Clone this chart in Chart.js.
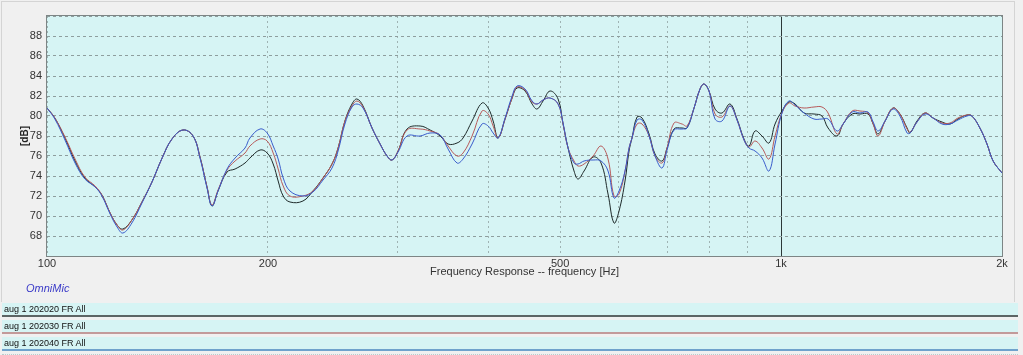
<!DOCTYPE html>
<html>
<head>
<meta charset="utf-8">
<script src="https://cdn.jsdelivr.net/npm/chart.js@4/dist/chart.umd.min.js"></script>
<style>
  body { margin: 0; background: #f0f0f0; font-family: "Liberation Sans", Arial, sans-serif; }
  #wrap { position: relative; width: 1023px; height: 355px; overflow: hidden; }
  #frame { position: absolute; left: 1px; top: 1px; width: 1012px; height: 300px; border: 1px solid #d4d4d4; border-bottom: none; }
  #chart { position: absolute; left: 0; top: 0; }
  .brand { position: absolute; left: 26px; top: 282px; color: #3b3bc8; font-style: italic; font-size: 11px; }
  .row { position: absolute; left: 2px; width: 1016px; height: 14px; background: #d6f4f4; font-size: 9px; color: #111; }
  .row span { position: absolute; left: 2px; top: 1px; }
  .row .line { position: absolute; left: 0; right: 0; bottom: 0; height: 2px; }
  .row .dots { position: absolute; left: 0; right: 0; bottom: -4px; border-top: 1px dotted #b8cccc; }
</style>
</head>
<body>
<div id="wrap">
  <div id="frame"></div>
  <canvas id="chart" width="1023" height="284"></canvas>
  <div class="brand">OmniMic</div>
  <div id="legend"></div>
</div>
<script>
const freqs = [100, 102.5, 105.8, 109.2, 112.6, 116.3, 118.8, 121.9, 124.6, 126.9, 130.5, 134.7, 139, 143.5, 148, 153.2, 158.1, 161.6, 165.2, 167.8, 171, 175.9, 180.4, 186.1, 189, 195.1, 199.5, 203.3, 206.5, 209.8, 214.3, 223.2, 230.3, 237.7, 244.5, 249.2, 254.6, 260.3, 264.4, 269.5, 277.2, 284.3, 290.6, 295.2, 300.8, 309.4, 322.3, 332.6, 343.2, 351.9, 361.9, 368.8, 379.4, 391.4, 399, 405.3, 411.7, 420.8, 430.2, 436.9, 448, 458, 465.2, 474, 484.6, 496.9, 504.7, 512.7, 522.4, 529, 539.1, 554.5, 568.6, 581.2, 592.2, 601.6, 613, 620.8, 626.6, 636.6, 646.6, 661, 673.5, 688.5, 699.4, 714.9, 733, 744.6, 761.2, 775.6, 785.4, 797.8, 813, 831, 852.2, 871.1, 890.4, 904.5, 921.7, 942.1, 963, 981.4, 1003, 1025, 1045, 1075, 1109, 1137, 1159, 1192, 1215, 1250, 1281, 1314, 1335, 1356, 1386, 1421, 1452, 1485, 1499, 1532, 1571, 1611, 1657, 1699, 1742, 1792, 1820, 1866, 1908, 1945, 2000];

const fr20 = [80.8, 79.8, 77.8, 75.5, 73.8, 72.9, 72.1, 70.3, 69.1, 68.7, 69.6, 71.4, 73.4, 75.8, 77.7, 78.6, 78.0, 75.9, 72.9, 71.0, 72.5, 74.4, 74.7, 75.3, 75.8, 76.6, 76.3, 75.2, 73.5, 72.0, 71.4, 71.5, 72.5, 73.8, 75.2, 76.8, 79.5, 81.2, 81.7, 81.0, 78.8, 77.2, 76.0, 75.6, 76.5, 78.7, 79.0, 78.6, 78.0, 77.2, 77.3, 77.8, 79.5, 81.3, 80.8, 79.5, 77.8, 79.7, 81.8, 82.8, 82.5, 81.2, 80.7, 81.5, 82.5, 81.7, 79.2, 76.8, 74.5, 73.7, 74.5, 75.9, 75.3, 72.2, 69.3, 70.5, 73.5, 76.5, 77.8, 79.9, 79.8, 78.2, 76.2, 75.5, 76.8, 78.7, 78.8, 78.8, 80.8, 82.7, 83.2, 82.5, 80.7, 80.3, 81.2, 79.7, 77.7, 77.0, 78.5, 78.0, 77.3, 79.2, 80.5, 81.4, 81.2, 80.3, 80.2, 80.0, 78.8, 78.0, 79.2, 80.2, 80.2, 80.2, 79.2, 78.2, 79.5, 80.8, 80.2, 78.8, 78.3, 79.5, 80.3, 79.8, 79.4, 79.2, 79.7, 80.1, 80.0, 78.8, 77.2, 75.5, 74.3];

const fr30 = [80.8, 79.8, 77.9, 75.7, 73.9, 73.0, 72.1, 70.3, 69.1, 68.6, 69.6, 71.4, 73.4, 75.8, 77.7, 78.6, 78.0, 75.9, 72.9, 71.1, 72.6, 74.6, 75.5, 76.3, 77.0, 77.7, 77.5, 76.3, 74.7, 73.0, 72.0, 72.0, 72.5, 73.8, 75.2, 76.8, 79.5, 81.0, 81.5, 80.9, 78.8, 77.2, 76.0, 75.6, 76.5, 78.6, 78.7, 78.5, 78.1, 77.0, 76.0, 76.3, 78.0, 80.5, 80.2, 79.0, 77.8, 79.7, 81.8, 82.9, 82.6, 81.4, 81.2, 81.6, 81.8, 81.2, 79.2, 76.8, 75.5, 75.0, 75.2, 76.0, 77.0, 75.7, 72.0, 72.2, 74.5, 76.8, 77.8, 79.2, 79.2, 78.0, 76.0, 75.3, 76.8, 79.3, 79.2, 79.0, 80.8, 82.7, 83.2, 82.5, 80.2, 79.9, 81.0, 79.6, 77.6, 76.9, 77.5, 76.8, 75.7, 78.0, 80.3, 81.3, 81.0, 80.8, 80.9, 80.9, 80.3, 78.2, 79.2, 80.5, 80.5, 80.3, 79.2, 78.0, 79.5, 80.8, 80.2, 78.7, 78.4, 79.4, 80.3, 79.8, 79.3, 79.3, 79.8, 80.1, 80.0, 78.8, 77.2, 75.5, 74.3];

const fr40 = [80.8, 79.7, 77.6, 75.3, 73.7, 72.9, 72.0, 70.2, 68.9, 68.3, 69.3, 71.3, 73.4, 75.8, 77.7, 78.6, 78.0, 75.8, 72.8, 71.0, 72.5, 74.7, 75.8, 76.8, 77.8, 78.7, 78.3, 77.0, 75.7, 73.8, 72.5, 72.0, 72.4, 73.6, 74.8, 76.5, 79.2, 80.9, 81.2, 80.8, 78.8, 77.2, 76.0, 75.6, 76.4, 78.0, 78.0, 78.3, 78.1, 76.7, 75.3, 75.7, 77.2, 79.2, 79.0, 78.3, 77.8, 79.8, 82.0, 83.0, 82.7, 81.5, 81.2, 81.6, 81.8, 81.2, 79.3, 76.8, 75.3, 75.2, 75.5, 75.6, 75.5, 74.5, 71.8, 72.5, 74.5, 76.8, 77.8, 79.6, 79.6, 78.0, 76.0, 74.8, 76.6, 78.6, 78.7, 78.8, 80.8, 82.7, 83.2, 82.5, 79.7, 79.5, 81.0, 79.6, 77.6, 76.8, 76.5, 75.8, 74.5, 77.2, 80.3, 81.5, 81.1, 80.3, 79.7, 79.7, 79.7, 78.5, 79.2, 80.4, 80.3, 80.4, 79.4, 78.5, 79.5, 80.7, 80.0, 78.3, 78.3, 79.4, 80.2, 79.8, 79.2, 79.2, 79.6, 80.0, 80.0, 78.8, 77.2, 75.5, 74.3];

const seriesNames = ["aug 1 202020 FR All", "aug 1 202030 FR All", "aug 1 202040 FR All"];
const seriesColors = ["#1e2a2a", "#b85a5a", "#3a5ccc"];
const legendColors = ["#5c6464", "#c29a9a", "#6fa2cc"];
const xTicks = [100, 200, 300, 400, 500, 600, 700, 800, 900, 1000, 2000];
const xLabels = { 100: "100", 200: "200", 500: "500", 1000: "1k", 2000: "2k" };

function points(vals) {
  return freqs.map((f, i) => ({ x: f, y: vals[i] }));
}

const plotBg = {
  id: "plotBg",
  beforeDraw(chart) {
    const { ctx, chartArea: a } = chart;
    ctx.save();
    ctx.fillStyle = "#d6f4f4";
    ctx.fillRect(a.left, a.top, a.right - a.left, a.bottom - a.top);
    ctx.restore();
  },
  afterDatasetsDraw(chart) {
    const { ctx, chartArea: a } = chart;
    ctx.save();
    ctx.strokeStyle = "#7d8585";
    ctx.lineWidth = 1;
    ctx.strokeRect(a.left - 0.5, a.top - 0.5, a.right - a.left + 1, a.bottom - a.top + 1);
    ctx.restore();
  }
};

const ctx = document.getElementById("chart").getContext("2d");

new Chart(ctx, {
  type: "line",
  data: {
    datasets: [
      { label: seriesNames[2], data: points(fr40), borderColor: seriesColors[2] },
      { label: seriesNames[1], data: points(fr30), borderColor: seriesColors[1] },
      { label: seriesNames[0], data: points(fr20), borderColor: seriesColors[0] },
    ],
  },
  options: {
    responsive: false,
    animation: false,
    parsing: false,
    layout: { padding: { left: 0, top: 16, right: 21, bottom: 0 } },
    elements: {
      point: { radius: 0 },
      line: { borderWidth: 1, tension: 0.4 },
    },
    plugins: { legend: { display: false }, tooltip: { enabled: false } },
    scales: {
      x: {
        type: "logarithmic",
        min: 100,
        max: 2000,
        afterBuildTicks: (scale) => {
          scale.ticks = xTicks.map((v) => ({ value: v }));
        },
        afterFit: (scale) => { scale.height = 28; },
        ticks: {
          autoSkip: false,
          maxRotation: 0,
          padding: 1,
          color: "#333",
          font: { family: "Liberation Sans", size: 11 },
          callback: (v) => xLabels[v] || "",
        },
        grid: {
          drawTicks: false,
          color: (c) => (c.tick && c.tick.value === 1000 ? "#2c3838" : "#9fb3b3"),
        },
        border: {
          display: false,
          dash: (c) => (c.tick && c.tick.value === 1000 ? [] : [2, 3]),
        },
        title: {
          display: true,
          text: "Frequency Response -- frequency [Hz]",
          color: "#333",
          font: { family: "Liberation Sans", size: 11 },
          padding: { top: 0, bottom: 5 },
        },
      },
      y: {
        min: 66,
        max: 90,
        afterFit: (scale) => { scale.width = 47; },
        ticks: {
          stepSize: 2,
          padding: 5,
          color: "#333",
          font: { family: "Liberation Sans", size: 11 },
          callback: (v) => (v === 66 || v === 90 ? "" : v),
        },
        grid: { drawTicks: false, color: "#8e9e9e" },
        border: { display: false, dash: [3, 3] },
        title: {
          display: true,
          text: "[dB]",
          color: "#222",
          font: { family: "Liberation Sans", size: 10, weight: "bold" },
          padding: { top: 19, bottom: 0 },
        },
      },
    },
  },
  plugins: [plotBg],
});

const legend = document.getElementById("legend");
seriesNames.forEach((name, i) => {
  const row = document.createElement("div");
  row.className = "row";
  row.style.top = (303 + i * 17) + "px";
  row.innerHTML = '<span>' + name + '</span><div class="line" style="background:' + legendColors[i] + '"></div><div class="dots"></div>';
  legend.appendChild(row);
});
</script>
</body>
</html>
